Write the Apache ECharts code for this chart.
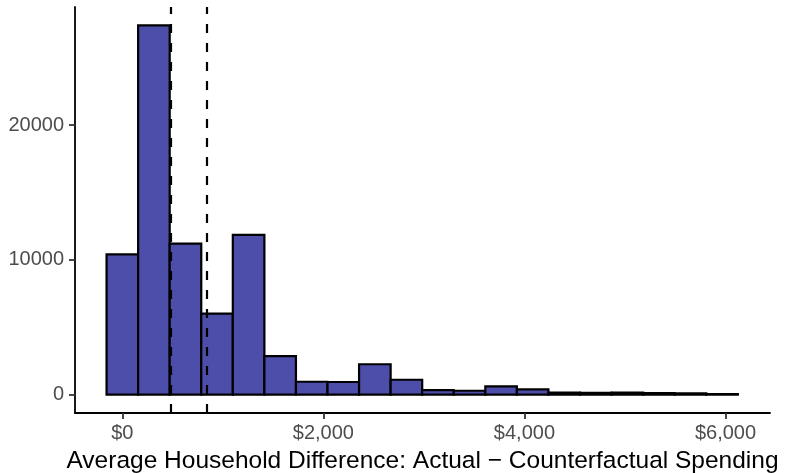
<!DOCTYPE html>
<html>
<head>
<meta charset="utf-8">
<script src="https://cdn.jsdelivr.net/npm/echarts@6/dist/echarts.min.js"></script>
<style>
html,body{margin:0;padding:0;background:#fff;}
#chart{width:787px;height:473px;}
</style>
</head>
<body>
<div id="chart"></div>
<script>
// Histogram bins (centers, in dollars) and counts
const binCenters = [0, 314, 628, 942, 1256, 1570, 1884, 2198, 2512, 2826, 3140, 3454, 3768, 4082, 4396, 4710, 5024, 5338, 5652, 5966];
const binWidth = 314;
const counts = [10400, 27400, 11200, 6000, 11850, 2850, 950, 930, 2250, 1100, 330, 280, 600, 380, 150, 120, 150, 100, 80, 30];
// Dashed reference lines (dollars)
const refLines = [481, 842];
// Tick values
const xTicks = [0, 2000, 4000, 6000];
const yTicks = [0, 10000, 20000];
const xTitle = 'Average Household Difference: Actual \u2212 Counterfactual Spending';

const data = binCenters.map((c, i) => [c - binWidth / 2, c + binWidth / 2, counts[i]]);

const chart = echarts.init(document.getElementById('chart'), null, {renderer: 'canvas'});
const fontFamily = '"Liberation Sans", Arial, Helvetica, sans-serif';

chart.setOption({
  animation: false,
  backgroundColor: '#ffffff',
  grid: {left: 75, right: 17, top: 7, bottom: 60, containLabel: false, outerBoundsMode: 'none'},
  xAxis: {
    type: 'value',
    min: -471,
    max: 6443,
    splitLine: {show: false},
    axisLine: {show: true, onZero: false, lineStyle: {color: '#000', width: 1.8}},
    axisTick: {show: true, length: 6, customValues: xTicks, lineStyle: {color: '#333', width: 1.8}},
    axisLabel: {
      customValues: xTicks,
      color: '#4d4d4d', fontSize: 20, fontFamily: fontFamily, margin: 10,
      formatter: v => '$' + Number(v).toLocaleString('en-US')
    },
    name: xTitle,
    nameLocation: 'middle',
    nameGap: 36,
    nameTextStyle: {color: '#000', fontSize: 24.5, fontFamily: fontFamily}
  },
  yAxis: {
    type: 'value',
    min: -1370,
    max: 28770,
    splitLine: {show: false},
    axisLine: {show: true, onZero: false, lineStyle: {color: '#000', width: 1.8}},
    axisTick: {show: true, length: 6, customValues: yTicks, lineStyle: {color: '#333', width: 1.8}},
    axisLabel: {
      customValues: yTicks,
      color: '#4d4d4d', fontSize: 20, fontFamily: fontFamily, margin: 11,
      formatter: v => String(v)
    }
  },
  series: [{
    type: 'custom',
    data: data,
    encode: {x: [0, 1], y: 2},
    renderItem: function (params, api) {
      const p0 = api.coord([api.value(0), 0]);
      const p1 = api.coord([api.value(1), api.value(2)]);
      return {
        type: 'rect',
        shape: {x: p0[0], y: p1[1], width: p1[0] - p0[0], height: p0[1] - p1[1]},
        style: {fill: '#4C4EAA', stroke: '#000', lineWidth: 2.2}
      };
    },
    markLine: {
      silent: true,
      symbol: ['none', 'none'],
      label: {show: false},
      lineStyle: {color: '#000', type: [9, 10], width: 2.2},
      data: refLines.map(v => ({xAxis: v}))
    },
    z: 2
  }]
});
</script>
</body>
</html>
